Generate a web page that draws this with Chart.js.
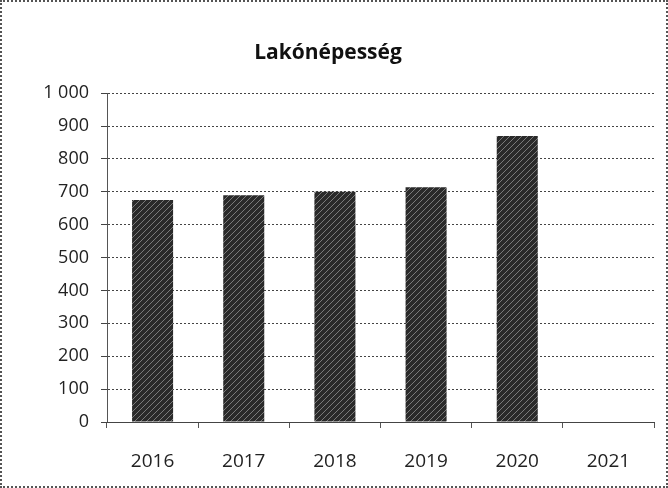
<!DOCTYPE html>
<html>
<head>
<meta charset="utf-8">
<script src="https://cdn.jsdelivr.net/npm/chart.js@4/dist/chart.umd.min.js"></script>
<style>
  html, body { margin: 0; padding: 0; background: #fff; }
  .wrap {
    position: relative;
    width: 664px;
    height: 484px;
    border: 2px dotted #555;
  }
</style>
</head>
<body>
<div class="wrap"><canvas id="myChart" width="664" height="484"></canvas></div>
<script>
// data
const years = ['2016', '2017', '2018', '2019', '2020', '2021'];
const population = [675, 690, 700, 714, 870, null];
const yTicks = [0, 100, 200, 300, 400, 500, 600, 700, 800, 900, 1000];

// hatched dark fill, like the scanned bars
function hatch() {
    const c = document.createElement('canvas');
    c.width = 6; c.height = 6;
    const g = c.getContext('2d');
    g.fillStyle = '#2a2a2a';
    g.fillRect(0, 0, 6, 6);
    g.strokeStyle = '#7a7a7a';
    g.lineWidth = 1;
    g.beginPath();
    g.moveTo(0, 6); g.lineTo(6, 0);
    g.moveTo(-3, 3); g.lineTo(3, -3);
    g.moveTo(3, 9); g.lineTo(9, 3);
    g.stroke();
    return g.createPattern(c, 'repeat');
}

const ctx = document.getElementById('myChart').getContext('2d');
new Chart(ctx, {
    type: 'bar',
    data: {
        labels: years,
        datasets: [{
            label: 'Lakónépesség',
            data: population,
            backgroundColor: hatch(),
            borderWidth: 0,
            barPercentage: 0.45,
            categoryPercentage: 1
        }]
    },
    options: {
        responsive: false,
        animation: false,
        layout: { padding: { left: 0, right: 12, top: 10, bottom: 0 } },
        plugins: {
            legend: { display: false },
            tooltip: { enabled: false },
            title: {
                display: true,
                text: 'Lakónépesség',
                color: '#111',
                font: { family: 'Open Sans', size: 21, weight: 'bold' },
                padding: { top: 28, bottom: 28 }
            }
        },
        scales: {
            y: {
                min: 0,
                max: 1000,
                afterBuildTicks: (s) => { s.ticks = yTicks.map(v => ({ value: v })); },
                afterFit: (s) => { s.width = 105; },
                ticks: {
                    color: '#222',
                    padding: 12,
                    font: { family: 'Open Sans', size: 18 },
                    callback: (v) => String(v).replace(/\B(?=(\d{3})+(?!\d))/g, ' ')
                },
                grid: {
                    color: '#444',
                    tickLength: 6,
                    lineWidth: 1
                },
                border: { color: '#555', dash: [2, 2] }
            },
            x: {
                afterFit: (s) => { s.height = 64; },
                ticks: {
                    color: '#222',
                    padding: 22,
                    font: { family: 'Open Sans', size: 19 }
                },
                grid: {
                    drawOnChartArea: false,
                    color: '#555',
                    tickLength: 6
                },
                border: { color: '#444', dash: [3, 2] }
            }
        }
    }
});
</script>
</body>
</html>
